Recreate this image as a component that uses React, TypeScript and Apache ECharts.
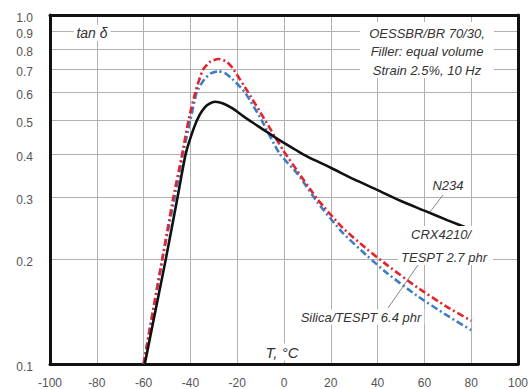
import React, { useEffect, useRef } from "react";
import * as echarts from "echarts";

// ---- data ----
const xTicks = [-100, -80, -60, -40, -20, 0, 20, 40, 60, 80, 100];
const yLabelValues = [0.1, 0.2, 0.3, 0.4, 0.5, 0.6, 0.7, 0.8, 0.9, 1.0];
const yGridValues = [0.2, 0.3, 0.4, 0.5, 0.6, 0.7, 0.8, 0.9];

const n234T = [-59.5, -50.5, -45.5, -42, -38.5, -36, -34, -32, -29.5, -26, -22, -16, -10, -4, 0, 6, 10, 20, 30, 40, 50, 60, 70, 80];
const n234V = [0.1, 0.2, 0.3, 0.4, 0.475, 0.518, 0.542, 0.556, 0.564, 0.558, 0.54, 0.505, 0.475, 0.447, 0.43, 0.407, 0.393, 0.365, 0.338, 0.315, 0.293, 0.275, 0.258, 0.243];

const crxT = [-60, -52, -47.3, -43.5, -40.8, -37.9, -34.7, -31.5, -28, -24.5, -22, -15.3, -8.5, -0.4, 5.9, 14.4, 25, 35.6, 44.1, 56.8, 69.5, 80];
const crxV = [0.1, 0.2, 0.3, 0.4, 0.5, 0.6, 0.695, 0.735, 0.748, 0.735, 0.705, 0.6, 0.505, 0.41, 0.356, 0.296, 0.246, 0.213, 0.192, 0.166, 0.146, 0.133];

const silicaT = [-60, -52, -46.7, -43.2, -40, -37.3, -34, -31, -28, -25, -22, -16.7, -9.6, -1.8, 5.9, 14.4, 25, 35.6, 44.1, 56.8, 69.5, 80];
const silicaV = [0.1, 0.2, 0.3, 0.4, 0.5, 0.6, 0.655, 0.682, 0.69, 0.68, 0.655, 0.6, 0.5, 0.4, 0.35, 0.29, 0.238, 0.204, 0.182, 0.157, 0.138, 0.125];

const infoLines = ["OESSBR/BR 70/30,", "Filler: equal volume", "Strain 2.5%, 10 Hz"];

const pairs = (t: number[], v: number[]) => t.map((x, i) => [x, v[i]]);

const FONT = "'Liberation Sans', Arial, sans-serif";
const TXT = "#333";

export default function App() {
  const ref = useRef<HTMLDivElement>(null);
  useEffect(() => {
    if (!ref.current) return;
    const chart = echarts.init(ref.current, null, { renderer: "svg" });
    const label = (text: string, x: number, y: number, size = 13, bg = true) => ({
      type: "text",
      x,
      y,
      z: 20,
      style: {
        text,
        fill: TXT,
        font: `italic ${size}px ${FONT}`,
        align: "center",
        verticalAlign: "middle",
        backgroundColor: bg ? "#fff" : undefined,
        padding: bg ? [1, 3, 1, 3] : undefined,
      },
    });
    chart.setOption({
      animation: false,
      backgroundColor: "#fff",
      grid: { left: 50, right: 9, top: 15, bottom: 24 },
      xAxis: [
        {
          type: "value",
          min: -100,
          max: 100,
          interval: 20,
          axisLine: { show: true, onZero: false, lineStyle: { color: "#111", width: 3 } },
          axisTick: { show: false },
          axisLabel: { color: "#555", fontSize: 12, fontFamily: FONT, margin: 13 },
          splitLine: { show: true, showMinLine: false, showMaxLine: false, lineStyle: { color: "#b0b0b0", width: 1 } },
        },
        {
          type: "value",
          position: "top",
          min: -100,
          max: 100,
          axisLine: { show: true, onZero: false, lineStyle: { color: "#111", width: 3 } },
          axisTick: { show: false },
          axisLabel: { show: false },
          splitLine: { show: false },
        },
      ],
      yAxis: [
        {
          type: "log",
          logBase: 10,
          min: 0.1,
          max: 1,
          axisLine: { show: true, onZero: false, lineStyle: { color: "#111", width: 3 } },
          axisTick: { show: false, customValues: yGridValues },
          axisLabel: {
            customValues: yLabelValues,
            color: "#555",
            fontSize: 12,
            fontFamily: FONT,
            margin: 17,
            verticalAlign: "top",
            lineHeight: 6,
            formatter: (v: number) => v.toFixed(1),
          },
          splitLine: { show: true, lineStyle: { color: "#b0b0b0", width: 1 } },
        },
        {
          type: "log",
          logBase: 10,
          min: 0.1,
          max: 1,
          position: "right",
          axisLine: { show: true, onZero: false, lineStyle: { color: "#111", width: 3 } },
          axisTick: { show: false },
          axisLabel: { show: false },
          splitLine: { show: false },
        },
      ],
      series: [
        {
          name: "Silica/TESPT 6.4 phr",
          type: "line",
          data: pairs(silicaT, silicaV),
          showSymbol: false,
          smooth: 0.2,
          lineStyle: { color: "#3c7ec4", width: 2.6, type: [7, 3, 2, 3] },
          z: 3,
        },
        {
          name: "CRX4210/TESPT 2.7 phr",
          type: "line",
          data: pairs(crxT, crxV),
          showSymbol: false,
          smooth: 0.2,
          lineStyle: { color: "#e3232d", width: 2.6, type: [7, 3, 2, 3] },
          z: 4,
        },
        {
          name: "N234",
          type: "line",
          data: pairs(n234T, n234V),
          showSymbol: false,
          smooth: 0.2,
          lineStyle: { color: "#111", width: 2.6 },
          z: 5,
        },
      ],
      graphic: [
        {
          type: "rect",
          z: 19,
          shape: { x: 360, y: 22, width: 134, height: 56 },
          style: { fill: "#fff" },
        },
        ...infoLines.map((t, i) => label(t, 427, 33 + i * 18.5, 13, false)),
        label("tan δ", 92, 33, 14),
        label("T, °C", 282, 352, 15),
        label("N234", 448, 185, 13),
        {
          type: "rect",
          z: 19,
          shape: { x: 398, y: 226, width: 95, height: 39 },
          style: { fill: "#fff" },
        },
        label("CRX4210/", 441, 234, 13, false),
        label("TESPT 2.7 phr", 444, 257, 13, false),
        label("Silica/TESPT 6.4 phr", 361, 317, 13),
        {
          type: "line",
          z: 18,
          shape: { x1: 443, y1: 195, x2: 430, y2: 212 },
          style: { stroke: "#666", lineWidth: 0.8 },
        },
        {
          type: "line",
          z: 18,
          shape: { x1: 418, y1: 265, x2: 388, y2: 308 },
          style: { stroke: "#666", lineWidth: 0.8 },
        },
      ],
    });
    return () => chart.dispose();
  }, []);
  return (
    <div
      ref={ref}
      style={{ position: "fixed", left: 0, top: 0, width: 531, height: 389, background: "#fff" }}
    />
  );
}
